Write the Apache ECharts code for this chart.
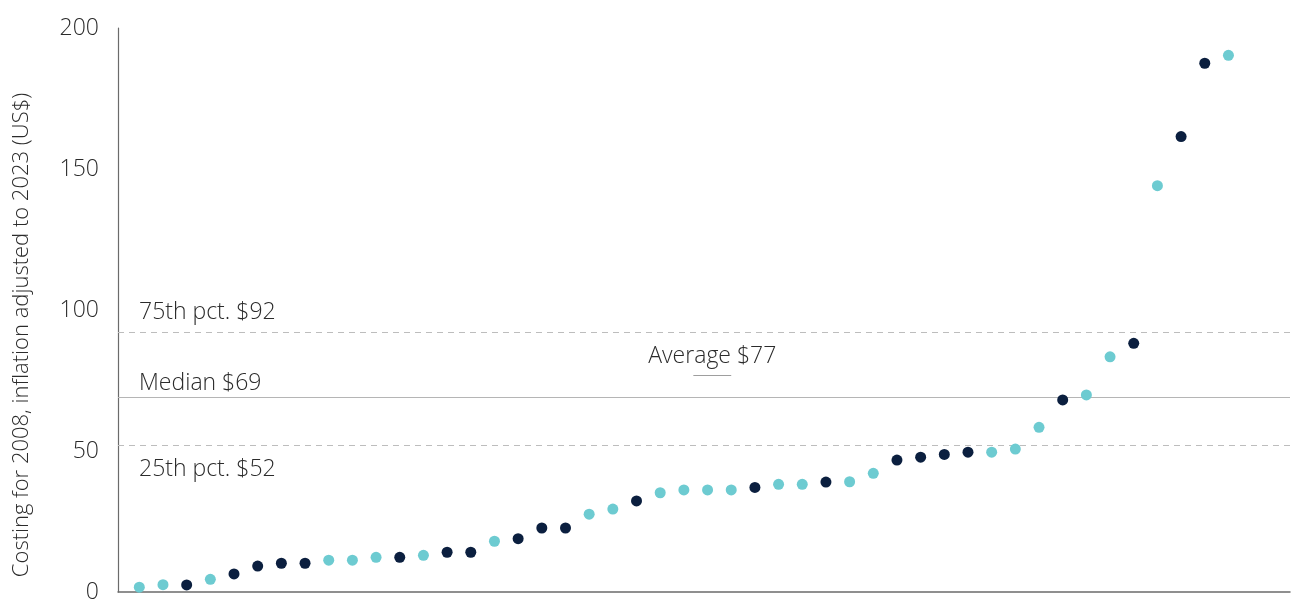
<!DOCTYPE html>
<html>
<head>
<meta charset="utf-8">
<script src="https://cdn.jsdelivr.net/npm/echarts@6/dist/echarts.min.js"></script>
<style>
html,body{margin:0;padding:0;background:#fff;}
#chart{width:1292px;height:599px;}
</style>
</head>
<body>
<div id="chart"></div>
<script>
// Data
const values = [1.7, 2.6, 2.5, 4.5, 6.4, 9.2, 10.2, 10.2, 11.3, 11.3, 12.3, 12.3, 13.0, 14.1, 14.1, 18.0, 18.9, 22.7, 22.7, 27.6,
  29.4, 32.3, 35.2, 36.2, 36.2, 36.2, 37.1, 38.2, 38.2, 39.0, 39.1, 42.1, 46.8, 47.8, 48.8, 49.6, 49.6, 50.7, 58.4, 68.1,
  69.9, 83.4, 88.2, 144.1, 161.5, 187.5, 190.3];
const groups = ['t','t','n','t','n','n','n','n','t','t','t','n','t','n','n','t','n','n','n','t',
  't','n','t','t','t','t','n','t','t','n','t','t','n','n','n','n','t','t','t','n',
  't','t','n','t','n','n','t'];
const yTicks = [0, 50, 100, 150, 200];
const pct25 = 52, median = 69, pct75 = 92, average = 77;
const averageSpan = [24.4, 26.0];
const yAxisTitle = 'Costing for 2008, inflation adjusted to 2023 (US$)';

const FONT = 'Open Sans';
const FW = 300;
const TXT = '#2b2b2b';
const NAVY = '#0b1f3f';
const TEAL = '#6dcbd1';

const tealData = [], navyData = [];
values.forEach((v, i) => { (groups[i] === 't' ? tealData : navyData).push([i + 1, v]); });

const lbl = (extra) => Object.assign({show: true, fontFamily: FONT, fontWeight: FW, fontSize: 23, color: TXT}, extra);

const chart = echarts.init(document.getElementById('chart'), null, {renderer: 'canvas'});
chart.setOption({
  animation: false,
  grid: {left: 118, right: 2, top: 28, bottom: 7, containLabel: false, outerBoundsMode: 'none'},
  xAxis: {
    type: 'value', min: 0.1, max: 49.6,
    axisLine: {show: true, onZero: false, lineStyle: {color: '#6b6b6b', width: 1.5}},
    axisTick: {show: false}, axisLabel: {show: false}, splitLine: {show: false}
  },
  yAxis: {
    type: 'value', min: yTicks[0], max: yTicks[yTicks.length - 1], interval: 50,
    name: yAxisTitle, nameLocation: 'middle', nameGap: 85, nameRotate: 90,
    nameTextStyle: {fontFamily: FONT, fontWeight: FW, fontSize: 22, color: TXT, padding: [0, 50, 0, 0]},
    axisLine: {show: true, lineStyle: {color: '#6b6b6b', width: 1.2}},
    axisTick: {show: false}, splitLine: {show: false},
    axisLabel: {fontFamily: FONT, fontWeight: FW, fontSize: 23, color: TXT, margin: 19}
  },
  series: [
    {
      type: 'scatter', name: 'teal', data: tealData, symbolSize: 11,
      itemStyle: {color: TEAL, opacity: 1}, z: 5,
      markLine: {
        silent: true, symbol: 'none',
        data: [
          {yAxis: pct75, lineStyle: {type: [6, 5], color: '#bdbdbd', width: 1},
           label: lbl({position: 'insideStartTop', formatter: '75th pct. $' + pct75, distance: [21, 9]})},
          {yAxis: median, lineStyle: {type: 'solid', color: '#b5b5b5', width: 1},
           label: lbl({position: 'insideStartTop', formatter: 'Median $' + median, distance: [21, 2]})},
          {yAxis: pct25, lineStyle: {type: [6, 5], color: '#bdbdbd', width: 1},
           label: lbl({position: 'insideStartBottom', formatter: '25th pct. $' + pct25, distance: [21, 13]})},
          [
            {coord: [averageSpan[0], average], lineStyle: {type: 'solid', color: '#9e9e9e', width: 1},
             label: lbl({position: 'middle', formatter: 'Average $' + average, distance: 7})},
            {coord: [averageSpan[1], average]}
          ]
        ]
      }
    },
    {
      type: 'scatter', name: 'navy', data: navyData, symbolSize: 11,
      itemStyle: {color: NAVY, opacity: 1}, z: 6
    }
  ]
});
</script>
</body>
</html>
